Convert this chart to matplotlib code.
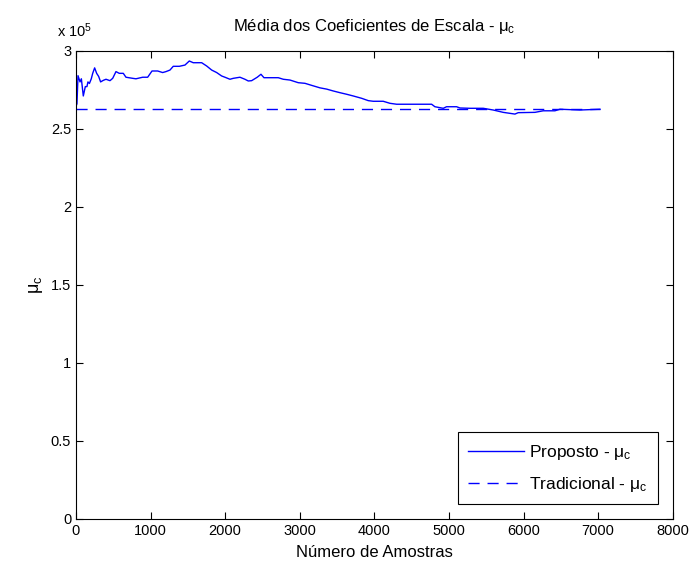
import matplotlib
matplotlib.use("Agg")
import matplotlib.pyplot as plt

plt.rcParams['font.family'] = ['Liberation Sans', 'DejaVu Sans']
plt.rcParams['mathtext.fontset'] = 'custom'
plt.rcParams['mathtext.rm'] = 'Liberation Sans'
plt.rcParams['mathtext.it'] = 'Liberation Sans'

# Proposto - mu_c (valores em unidades de 1e5)
amostras = [5, 13, 27, 54, 72, 98, 125, 147, 160, 180, 205, 224, 250, 277, 304,
            330, 366, 402, 456, 492, 536, 580, 634, 670, 760, 804, 894, 961,
            1019, 1095, 1162, 1206, 1260, 1304, 1385, 1461, 1519, 1572, 1685,
            1752, 1819, 1886, 1953, 1997, 2064, 2109, 2198, 2265, 2310, 2355,
            2430, 2480, 2520, 2600, 2712, 2779, 2869, 2980, 3070, 3159, 3271,
            3360, 3449, 3539, 3628, 3717, 3830, 3919, 3985, 4119, 4209, 4299,
            4433, 4611, 4768, 4812, 4924, 4968, 5103, 5147, 5281, 5460, 5594,
            5728, 5885, 5929, 6153, 6264, 6421, 6488, 6756, 7024]
proposto = [2.65, 2.66, 2.84, 2.80, 2.82, 2.71, 2.77, 2.77, 2.80, 2.79, 2.82,
            2.855, 2.89, 2.855, 2.835, 2.80, 2.81, 2.817, 2.808, 2.823, 2.866,
            2.855, 2.855, 2.83, 2.823, 2.82, 2.83, 2.83, 2.87, 2.87, 2.86,
            2.866, 2.876, 2.90, 2.90, 2.908, 2.934, 2.923, 2.923, 2.902, 2.876,
            2.86, 2.838, 2.83, 2.817, 2.823, 2.83, 2.817, 2.806, 2.808, 2.83,
            2.849, 2.827, 2.827, 2.827, 2.817, 2.812, 2.795, 2.791, 2.778,
            2.762, 2.754, 2.742, 2.731, 2.721, 2.71, 2.695, 2.68, 2.676, 2.676,
            2.663, 2.657, 2.657, 2.657, 2.657, 2.641, 2.631, 2.641, 2.641,
            2.633, 2.631, 2.631, 2.620, 2.605, 2.594, 2.603, 2.605, 2.615,
            2.615, 2.625, 2.620, 2.625]

# Tradicional - mu_c (constante)
trad_x = [0, 7030]
trad_y = [2.625, 2.625]

escala = 1e5

fig = plt.figure(figsize=(6.94, 5.69), dpi=100)
ax = fig.add_axes([0.1095, 0.0879, 0.8598, 0.823])

ax.plot(amostras, [v * escala for v in proposto], color='#0000ff', lw=1,
        label=r'Proposto - $\mu_c$')
ax.plot(trad_x, [v * escala for v in trad_y], color='#0000ff', lw=1,
        dashes=(8, 5.7), label=r'Tradicional - $\mu_c$')

ax.set_xlim(0, 8000)
ax.set_ylim(0, 3e5)
ax.set_xticks(range(0, 8001, 1000))
ax.set_yticks([i * 0.5e5 for i in range(7)])
ax.set_yticklabels(['0', '0.5', '1', '1.5', '2', '2.5', '3'])
ax.tick_params(direction='in', top=True, right=True, length=5, labelsize=10.5)
for s in ax.spines.values():
    s.set_linewidth(0.8)

fig.text(0.082, 0.935, r'x 10$^5$', fontsize=10.5)
ax.set_title(r'Média dos Coeficientes de Escala - $\mu_c$', fontsize=12, pad=14)
ax.set_xlabel('Número de Amostras', fontsize=12, labelpad=5)
ax.set_ylabel(r'$\mu_c$', fontsize=13, labelpad=4)

leg = ax.legend(loc='lower right', fancybox=False, edgecolor='black',
                fontsize=12.5, borderaxespad=0.86, handlelength=3.2,
                handletextpad=0.3, labelspacing=0.75, borderpad=0.6,
                framealpha=1)
leg.get_frame().set_linewidth(0.8)

fig.savefig('out.png', dpi=100)
